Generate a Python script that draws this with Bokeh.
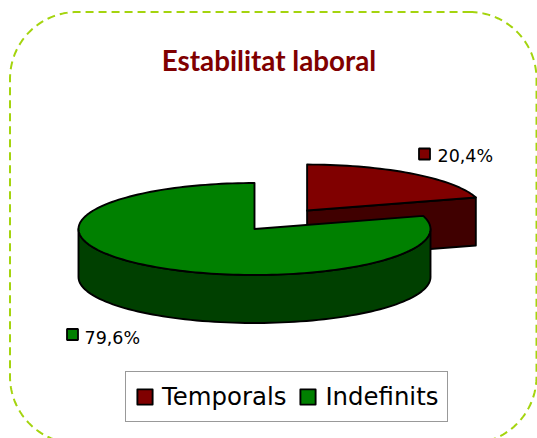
import numpy as np
from bokeh.core.properties import value
from bokeh.embed import file_html
from bokeh.models import Legend, LegendItem, Range1d
from bokeh.plotting import figure
from bokeh.resources import INLINE

title = "Estabilitat laboral"
categories = ["Temporals", "Indefinits"]
values = [20.4, 79.6]
value_labels = ["20,4%", "79,6%"]
top_colors = ["#800000", "#008000"]
side_colors = ["#400000", "#004000"]

W, H = 537, 438
OX, OY = 0, 0

p = figure(width=W, height=H, output_backend="svg", toolbar_location=None,
           x_range=Range1d(OX, OX + W), y_range=Range1d(OY + H, OY),
           min_border=0, outline_line_color=None, background_fill_color="white",
           border_fill_color="white")
p.axis.visible = False
p.grid.visible = False

# dashed rounded border
L, T, R, B, r = 9.5, 11.5, 536, 443, 67
bx, by = [], []
for cx, cy, a0 in [(R - r, T + r, -90), (R - r, B - r, 0), (L + r, B - r, 90), (L + r, T + r, 180)]:
    a = np.radians(np.linspace(a0, a0 + 90, 40))
    bx += list(cx + r * np.cos(a))
    by += list(cy + r * np.sin(a))
bx.append(bx[0])
by.append(by[0])
p.line(bx, by, line_color="#A4D40E", line_width=2, line_dash="8 5")

# pie geometry
CX, CY, RX, RY, DEPTH, EXPLODE = 254, 228.5, 176, 46, 48, 0.5
sweep = [v / sum(values) * 360 for v in values]
t_red = np.radians(np.linspace(90, 90 - sweep[0], 40))
t_green = np.radians(np.linspace(90 - sweep[0] - 360, 90 - 360 - sweep[0] - sweep[1], 160))
mid = np.radians(90 - sweep[0] / 2)
dx = EXPLODE * RX * np.cos(mid)
dy = -EXPLODE * RY * np.sin(mid)
EDGE = dict(line_color="black", line_width=1.9, line_join="round")

# exploded slice: inner wall, then top
rx0, ry0 = CX + dx, CY + dy
rim_x = rx0 + RX * np.cos(t_red)
rim_y = ry0 - RY * np.sin(t_red)
p.patch([rx0, rim_x[-1], rim_x[-1], rx0], [ry0, rim_y[-1], rim_y[-1] + DEPTH, ry0 + DEPTH],
        fill_color=side_colors[0], **EDGE)
red_top = p.patch([rx0, *rim_x], [ry0, *rim_y], fill_color=top_colors[0], **EDGE)

# large slice: outer wall, then top
t_front = np.radians(np.linspace(180, 360, 90))
fx = CX + RX * np.cos(t_front)
fy = CY - RY * np.sin(t_front)
p.patch([*fx, *fx[::-1]], [*fy, *(fy[::-1] + DEPTH)], fill_color=side_colors[1], **EDGE)
gx = CX + RX * np.cos(t_green)
gy = CY - RY * np.sin(t_green)
green_top = p.patch([CX, *gx], [CY, *gy], fill_color=top_colors[1], **EDGE)

# title
p.text([268.5], [60], text=[title], text_font=value("Lato"), text_font_style="bold",
       text_font_size="27.8px", text_color="#800000", text_align="center", text_baseline="middle")

# value labels with key squares
lab_x = [437, 84]
lab_y = [155.5, 337]
key_x = [424, 72]
key_y = [153.5, 334]
p.text(lab_x, lab_y, text=value_labels, text_font=value("DejaVu Sans"), text_font_size="17.5px",
       text_color="black", text_align="left", text_baseline="middle")
p.scatter(key_x, key_y, marker="square", size=11, fill_color=top_colors,
          line_color="black", line_width=1.8)

legend = Legend(items=[LegendItem(label=categories[0], renderers=[red_top]),
                       LegendItem(label=categories[1], renderers=[green_top])],
                orientation="horizontal", location=(125, 16),
                label_text_font="DejaVu Sans", label_text_font_size="24.4px", label_text_color="black",
                glyph_width=19, glyph_height=19, spacing=12, padding=dict(x=9, y=10), margin=0,
                label_standoff=8, border_line_color="#333333", border_line_width=1.5,
                background_fill_alpha=1, background_fill_color="white")
p.add_layout(legend)

open("out.html", "w").write(file_html(p, INLINE))
